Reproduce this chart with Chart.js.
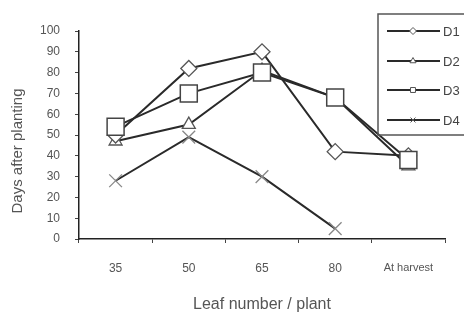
<!DOCTYPE html>
<html><head><meta charset="utf-8">
<script src="https://cdn.jsdelivr.net/npm/chart.js@4"></script>
<style>html,body{margin:0;padding:0;background:#fff;}#w{width:464px;height:316px;}</style>
</head><body><div id="w"><canvas id="c" width="464" height="316"></canvas></div>
<script>
const categories = ['35', '50', '65', '80', 'At harvest'];
const d1 = [50, 82, 90, 42, 40];
const d2 = [47, 55, 81, 68, 35];
const d3 = [54, 70, 80, 68, 38];
const d4 = [28, 49, 30, 5, null];
const seriesNames = ['D1', 'D2', 'D3', 'D4'];
const yTicks = [0, 10, 20, 30, 40, 50, 60, 70, 80, 90, 100];

const FONT = '"Liberation Sans", Arial, sans-serif';
const lineCol = '#2a2a2a';
const mk = (label, data, style, r, bc, bw, order) => ({
  label, data, borderColor: lineCol, borderWidth: 2, pointStyle: style,
  pointRadius: r, pointBackgroundColor: '#fff', pointBorderColor: bc,
  pointBorderWidth: bw, tension: 0, spanGaps: false, fill: false, order
});
const datasets = [
  mk(seriesNames[0], d1, 'rectRot', 8, '#555', 1.3, 1),
  mk(seriesNames[1], d2, 'triangle', 7.5, '#555', 1.3, 2),
  mk(seriesNames[2], d3, 'rect', 12, '#444', 1.5, 0),
  mk(seriesNames[3], d4, 'crossRot', 9, '#888', 1.3, 3)
];

const extraPlugin = {
  id: 'boxLegend',
  afterDraw(chart) {
    const ctx = chart.ctx;
    ctx.save();
    // y axis title
    ctx.save();
    ctx.translate(18, 151);
    ctx.rotate(-Math.PI / 2);
    ctx.fillStyle = '#555';
    ctx.font = '15px ' + FONT;
    ctx.textAlign = 'center';
    ctx.textBaseline = 'middle';
    ctx.fillText('Days after planting', 0, 0);
    ctx.restore();
    // legend
    ctx.strokeStyle = '#555';
    ctx.lineWidth = 1.5;
    ctx.strokeRect(378, 14, 100, 121);
    const ys = [31, 61, 90, 120];
    chart.data.datasets.forEach((ds, i) => {
      const y = ys[i];
      ctx.strokeStyle = lineCol;
      ctx.lineWidth = 2;
      ctx.beginPath(); ctx.moveTo(387, y); ctx.lineTo(440, y); ctx.stroke();
      ctx.fillStyle = '#fff';
      ctx.strokeStyle = '#555';
      ctx.lineWidth = 1;
      Chart.helpers.drawPoint(ctx, {pointStyle: ds.pointStyle, radius: 3.5, borderWidth: 1}, 413, y);
      ctx.fillStyle = '#444';
      ctx.font = '13px ' + FONT;
      ctx.textBaseline = 'middle';
      ctx.textAlign = 'left';
      ctx.fillText(ds.label, 443, y + 1);
    });
    ctx.restore();
  }
};

new Chart(document.getElementById('c'), {
  type: 'line',
  data: { labels: categories, datasets },
  options: {
    responsive: false, animation: false, devicePixelRatio: 1,
    layout: { padding: { left: 0, top: 31, right: 19, bottom: 0 } },
    plugins: { legend: { display: false }, tooltip: { enabled: false } },
    scales: {
      x: {
        type: 'category', offset: true,
        afterFit(s) { s.height = 77; },
        grid: { display: true, drawOnChartArea: false, offset: true, tickLength: 4, color: '#333', tickColor: '#444' },
        border: { display: true, color: '#222', width: 1.5 },
        ticks: { color: '#555', padding: 18, maxRotation: 0, autoSkip: false,
          font: (c) => ({ family: FONT, size: c.index === 4 ? 11 : 12 }) },
        title: { display: true, text: 'Leaf number / plant', color: '#555', padding: { top: 0, bottom: 2 },
          font: { family: FONT, size: 16 } }
      },
      y: {
        min: 0, max: 100,
        afterFit(s) { s.width = 79; },
        afterBuildTicks(s) { s.ticks = yTicks.map(v => ({ value: v })); },
        grid: { display: true, drawOnChartArea: false, tickLength: 4, tickColor: '#444' },
        border: { display: true, color: '#222', width: 1.5 },
        ticks: { color: '#555', padding: 15, font: { family: FONT, size: 12 } },
        title: { display: false }
      }
    }
  },
  plugins: [extraPlugin]
});
</script>
</body></html>
